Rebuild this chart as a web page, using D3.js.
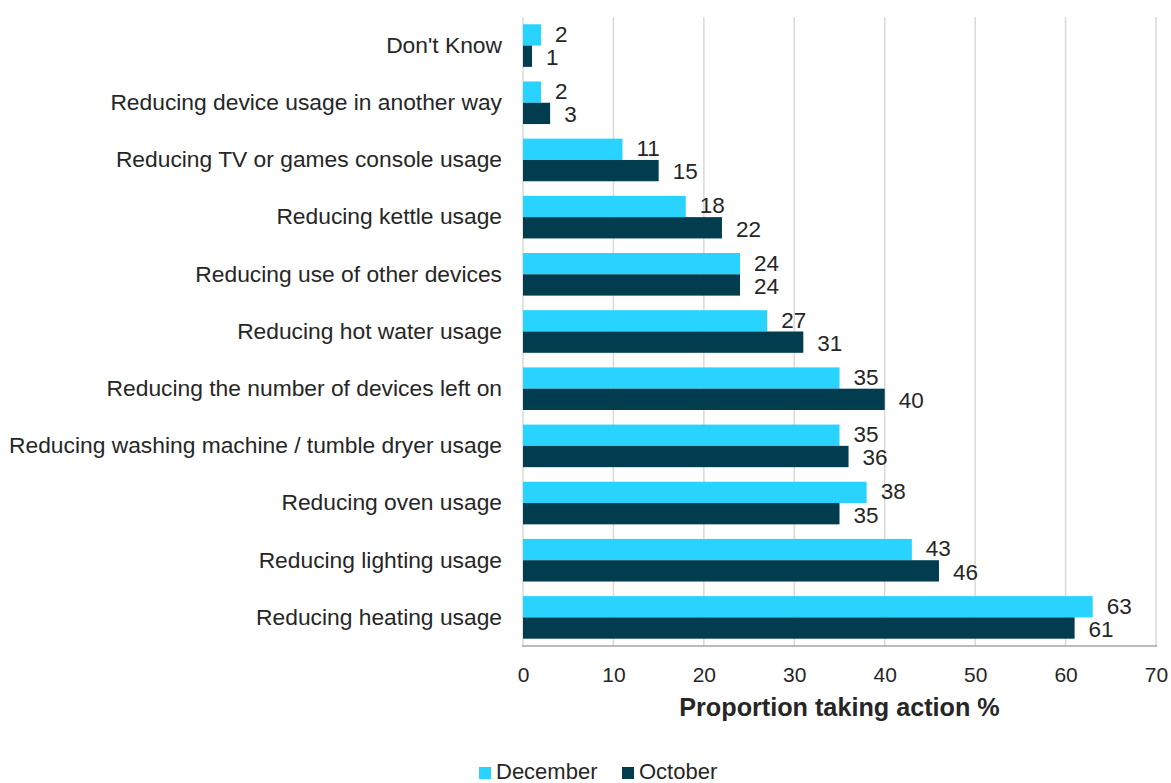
<!DOCTYPE html>
<html>
<head>
<meta charset="utf-8">
<script src="https://cdn.jsdelivr.net/npm/d3@7"></script>
<style>
  html, body { margin: 0; padding: 0; background: #ffffff; }
  svg { display: block; }
  text { font-family: "Liberation Sans", Arial, sans-serif; fill: #262626; }
</style>
</head>
<body>
<svg id="chart" width="1171" height="783"></svg>
<script>
const categories = [
  "Don't Know",
  "Reducing device usage in another way",
  "Reducing TV or games console usage",
  "Reducing kettle usage",
  "Reducing use of other devices",
  "Reducing hot water usage",
  "Reducing the number of devices left on",
  "Reducing washing machine / tumble dryer usage",
  "Reducing oven usage",
  "Reducing lighting usage",
  "Reducing heating usage"
];
const december = [2, 2, 11, 18, 24, 27, 35, 35, 38, 43, 63];
const october  = [1, 3, 15, 22, 24, 31, 40, 36, 35, 46, 61];
const seriesNames = ["December", "October"];
const seriesColors = ["#29d3ff", "#023d4f"];
const xTicks = [0, 10, 20, 30, 40, 50, 60, 70];
const xTitle = "Proportion taking action %";

const svg = d3.select("#chart");
const plot = { left: 523, right: 1156, top: 17, bottom: 646 };

const x = d3.scaleLinear().domain([0, 70]).range([plot.left, plot.right]);
const pad = 0.255;
const y = d3.scaleBand().domain(categories).range([plot.top, plot.bottom])
  .paddingInner(pad).paddingOuter(pad / 2);
const ySub = d3.scaleBand().domain(seriesNames).range([0, y.bandwidth()]);

// gridlines
svg.append("g").selectAll("line").data(xTicks.filter(t => t > 0)).join("line")
  .attr("x1", d => x(d)).attr("x2", d => x(d))
  .attr("y1", plot.top).attr("y2", plot.bottom)
  .attr("stroke", "#d9d9d9").attr("stroke-width", 1.5);

// left axis line
svg.append("line")
  .attr("x1", x(0)).attr("x2", x(0)).attr("y1", plot.top).attr("y2", plot.bottom)
  .attr("stroke", "#d9d9d9").attr("stroke-width", 1.5);

const rows = categories.map((c, i) => ({ cat: c, values: [december[i], october[i]] }));

// bars
const groups = svg.append("g").selectAll("g").data(rows).join("g")
  .attr("transform", d => `translate(0,${y(d.cat)})`);

groups.selectAll("rect").data(d => d.values.map((v, j) => ({ v, s: seriesNames[j], j })))
  .join("rect")
  .attr("x", x(0))
  .attr("y", d => ySub(d.s))
  .attr("width", d => x(d.v) - x(0))
  .attr("height", ySub.bandwidth())
  .attr("fill", d => seriesColors[d.j]);

groups.selectAll("text.val").data(d => d.values.map((v, j) => ({ v, s: seriesNames[j], j })))
  .join("text")
  .attr("class", "val")
  .attr("x", d => x(d.v) + 14)
  .attr("y", d => ySub(d.s) + ySub.bandwidth() / 2 + (d.j === 0 ? -1 : 1))
  .attr("dy", "0.35em")
  .attr("font-size", "22.5px")
  .text(d => d.v);

// bottom axis line
svg.append("line")
  .attr("x1", plot.left - 1).attr("x2", plot.right + 1)
  .attr("y1", plot.bottom).attr("y2", plot.bottom)
  .attr("stroke", "#a6a6a6").attr("stroke-width", 1.5);

// x tick labels
const xAxis = d3.axisBottom(x).tickValues(xTicks).tickSize(0).tickPadding(0);
const gx = svg.append("g").attr("transform", `translate(0,${plot.bottom})`).call(xAxis);
gx.select(".domain").remove();
gx.selectAll("text")
  .attr("y", 35.5).attr("dy", 0)
  .attr("font-size", "21px")
  .style("font-family", "'Liberation Sans', Arial, sans-serif")
  .attr("fill", "#262626");

// y category labels
const yAxis = d3.axisLeft(y).tickSize(0).tickPadding(0);
const gy = svg.append("g").attr("transform", `translate(502,0)`).call(yAxis);
gy.select(".domain").remove();
gy.selectAll("text")
  .attr("font-size", "22.8px")
  .style("font-family", "'Liberation Sans', Arial, sans-serif")
  .attr("fill", "#262626");

// x title
svg.append("text")
  .attr("x", (plot.left + plot.right) / 2)
  .attr("y", 716)
  .attr("text-anchor", "middle")
  .attr("font-size", "25.2px")
  .attr("font-weight", "bold")
  .text(xTitle);

// legend
const legendItems = [
  { name: seriesNames[0], color: seriesColors[0], x: 479 },
  { name: seriesNames[1], color: seriesColors[1], x: 622 }
];
const lg = svg.append("g").selectAll("g").data(legendItems).join("g")
  .attr("transform", d => `translate(${d.x},0)`);
lg.append("rect").attr("x", 0).attr("y", 767).attr("width", 12).attr("height", 12)
  .attr("fill", d => d.color);
lg.append("text").attr("x", 17).attr("y", 778.5).attr("font-size", "22px")
  .text(d => d.name);
</script>
</body>
</html>
